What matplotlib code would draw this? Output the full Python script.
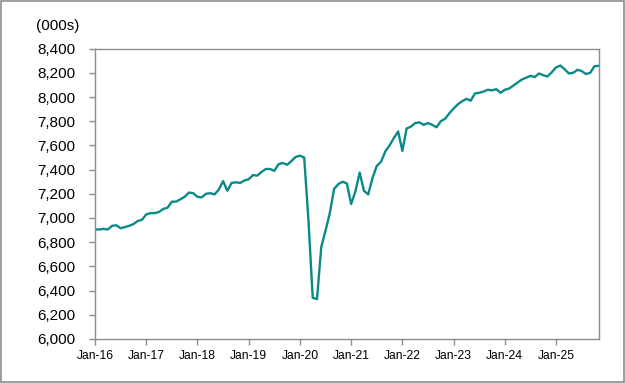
import matplotlib
matplotlib.use("Agg")
import matplotlib.pyplot as plt
from matplotlib.patches import Rectangle
import numpy as np

# monthly values, Jan-16 .. Nov-25 (000s)
y2016 = [6905, 6905, 6910, 6905, 6935, 6940, 6915, 6925, 6935, 6950, 6975, 6985]
y2017 = [7030, 7040, 7040, 7050, 7075, 7085, 7135, 7135, 7155, 7175, 7210, 7205]
y2018 = [7175, 7170, 7200, 7205, 7195, 7235, 7305, 7225, 7290, 7295, 7290, 7310]
y2019 = [7320, 7355, 7350, 7380, 7405, 7405, 7390, 7445, 7455, 7440, 7470, 7505]
y2020 = [7515, 7500, 6980, 6340, 6330, 6760, 6895, 7040, 7240, 7280, 7300, 7285]
y2021 = [7115, 7220, 7375, 7225, 7195, 7330, 7430, 7465, 7550, 7600, 7660, 7715]
y2022 = [7555, 7740, 7755, 7785, 7790, 7770, 7785, 7770, 7750, 7800, 7820, 7865]
y2023 = [7905, 7940, 7965, 7985, 7970, 8030, 8035, 8045, 8060, 8055, 8065, 8035]
y2024 = [8060, 8070, 8095, 8120, 8145, 8160, 8175, 8165, 8195, 8180, 8170, 8205]
y2025 = [8245, 8260, 8230, 8195, 8200, 8225, 8215, 8190, 8200, 8255, 8258]

values = y2016 + y2017 + y2018 + y2019 + y2020 + y2021 + y2022 + y2023 + y2024 + y2025
x_labels = ["Jan-16", "Jan-17", "Jan-18", "Jan-19", "Jan-20",
            "Jan-21", "Jan-22", "Jan-23", "Jan-24", "Jan-25"]
y_ticks = list(range(6000, 8401, 200))

plt.rcParams["font.family"] = ["Liberation Sans", "DejaVu Sans"]

fig = plt.figure(figsize=(6.25, 3.83), dpi=100)
ax = fig.add_axes([0.152, 0.115, 0.806, 0.758])

months = np.arange(len(values))
ax.plot(months, values, color="#0a8a86", linewidth=1.7, solid_joinstyle="round")

ax.set_xlim(0, len(values) - 1)
ax.set_ylim(6000, 8400)
ax.set_yticks(y_ticks)
ax.set_yticklabels([f"{v:,}" for v in y_ticks], fontsize=11)
ax.set_xticks(np.arange(len(x_labels)) * 12)
ax.set_xticklabels(x_labels, fontsize=8.7)

for side in ["left", "bottom", "top", "right"]:
    ax.spines[side].set_color("#8c8c8c")
    ax.spines[side].set_linewidth(1.0)
ax.tick_params(axis="y", direction="out", length=4, width=1, color="#8c8c8c", pad=10)
ax.tick_params(axis="x", direction="out", length=4, width=1, color="#8c8c8c", pad=4)

fig.text(0.058, 0.932, "(000s)", fontsize=11, ha="left", va="center")

# outer chart border
fig.patches.append(Rectangle((0.002, 0.003), 0.996, 0.994, transform=fig.transFigure,
                             fill=False, edgecolor="#8c8c8c", linewidth=1.2))

fig.savefig("out.png", dpi=100)
